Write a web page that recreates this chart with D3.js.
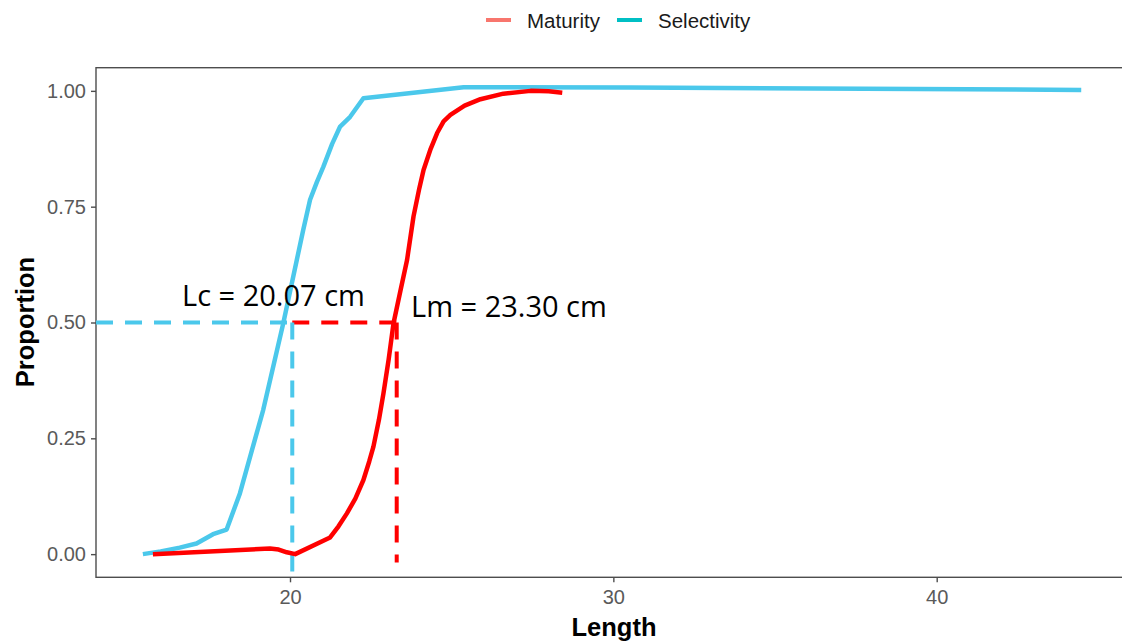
<!DOCTYPE html>
<html>
<head>
<meta charset="utf-8">
<script src="https://cdn.jsdelivr.net/npm/d3@7"></script>
<style>
  body { margin: 0; background: #fff; overflow: hidden; }
  svg { display: block; overflow: hidden; }
</style>
</head>
<body>
<div id="chart"></div>
<script>
// selectivity curve (length cm, proportion)
const selLength = [15.45, 16.0, 16.59, 17.11, 17.62, 18.04, 18.45, 19.17, 19.79, 20.21, 20.41, 20.62, 20.83, 21.03, 21.3, 21.55, 21.86, 22.27, 25.37, 30.54, 44.47];
const selProp   = [0.0, 0.006, 0.014, 0.023, 0.043, 0.053, 0.131, 0.311, 0.498, 0.635, 0.70, 0.765, 0.803, 0.836, 0.885, 0.923, 0.944, 0.984, 1.008, 1.007, 1.002];

// maturity curve
const matLength = [15.76, 19.38, 19.65, 19.9, 20.16, 21.24, 21.5, 21.76, 22.02, 22.27, 22.45, 22.58, 22.75, 22.89, 23.05, 23.2, 23.42, 23.62, 23.82, 24.0, 24.13, 24.35, 24.55, 24.75, 24.96, 25.4, 25.89, 26.6, 27.44, 28.0, 28.42];
const matProp   = [0.0, 0.012, 0.01, 0.004, 0.0, 0.036, 0.06, 0.088, 0.12, 0.16, 0.2, 0.232, 0.29, 0.347, 0.42, 0.498, 0.57, 0.635, 0.729, 0.79, 0.829, 0.875, 0.909, 0.934, 0.948, 0.968, 0.982, 0.994, 1.0, 0.999, 0.996];

const xTicks = [20, 30, 40];
const yTicks = [0, 0.25, 0.5, 0.75, 1];
const legendNames = ['Maturity', 'Selectivity'];
const legendColors = ['#F8766D', '#00BFC4'];

// L50 annotations
const lc = 20.07;
const lm = 23.30;
const lcLabel = 'Lc = 20.07 cm';
const lmLabel = 'Lm = 23.30 cm';

const width = 1122, height = 644;
const panel = { left: 96, right: 1132, top: 67.7, bottom: 577.3 };

const svg = d3.select('#chart').append('svg')
    .attr('width', width)
    .attr('height', height);

const x = d3.scaleLinear().domain([14.0, 46.04]).range([panel.left, panel.right]);
const y = d3.scaleLinear().domain([-0.05, 1.05]).range([panel.bottom, panel.top]);

const tickFont = '"Liberation Sans", Arial, sans-serif';
const noteFont = '"Open Sans", sans-serif';

// panel border
svg.append('rect')
    .attr('x', panel.left)
    .attr('y', panel.top)
    .attr('width', panel.right - panel.left)
    .attr('height', panel.bottom - panel.top)
    .attr('fill', 'none')
    .attr('stroke', '#4d4d4d')
    .attr('stroke-width', 1.4);

// axes
const xAxis = svg.append('g')
    .attr('transform', `translate(0,${panel.bottom})`)
    .call(d3.axisBottom(x).tickValues(xTicks).tickSize(5).tickPadding(8).tickFormat(d3.format('d')));
const yAxis = svg.append('g')
    .attr('transform', `translate(${panel.left},0)`)
    .call(d3.axisLeft(y).tickValues(yTicks).tickSize(5).tickPadding(5).tickFormat(d3.format('.2f')));

[xAxis, yAxis].forEach(ax => {
    ax.select('.domain').remove();
    ax.selectAll('.tick line').attr('stroke', '#4d4d4d').attr('stroke-width', 1.4);
    ax.selectAll('.tick text')
        .attr('fill', '#5a5a5a')
        .style('font-family', tickFont)
        .style('font-size', '20px');
});

// dashed guide lines
const dash = '17,12';
const guides = [
    { x1: x.invert(panel.left), y1: 0.5, x2: lc, y2: 0.5, color: '#4BC8EB' },
    { x1: lc, y1: 0.5, x2: lm, y2: 0.5, color: '#FF0000' },
    { x1: lc, y1: 0.5, x2: lc, y2: -0.056, color: '#4BC8EB' },
    { x1: lm, y1: 0.5, x2: lm, y2: -0.018, color: '#FF0000' }
];
svg.selectAll('line.guide')
    .data(guides)
    .enter().append('line')
    .attr('class', 'guide')
    .attr('x1', d => x(d.x1))
    .attr('y1', d => y(d.y1))
    .attr('x2', d => x(d.x2))
    .attr('y2', d => y(d.y2))
    .attr('stroke', d => d.color)
    .attr('stroke-width', 4)
    .attr('stroke-dasharray', dash);

// curves
const line = d3.line()
    .x(d => x(d[0]))
    .y(d => y(d[1]));

svg.append('path')
    .datum(d3.zip(selLength, selProp))
    .attr('d', line)
    .attr('fill', 'none')
    .attr('stroke', '#4BC8EB')
    .attr('stroke-width', 4.5)
    .attr('stroke-linejoin', 'round');

svg.append('path')
    .datum(d3.zip(matLength, matProp))
    .attr('d', line)
    .attr('fill', 'none')
    .attr('stroke', '#FF0000')
    .attr('stroke-width', 4.5)
    .attr('stroke-linejoin', 'round');

// annotation text
svg.append('text')
    .attr('x', 182)
    .attr('y', 306)
    .style('font-family', noteFont)
    .style('font-size', '29px')
    .attr('fill', '#000')
    .text(lcLabel);

svg.append('text')
    .attr('x', 411)
    .attr('y', 317)
    .style('font-family', noteFont)
    .style('font-size', '29px')
    .attr('fill', '#000')
    .text(lmLabel);

// axis titles
svg.append('text')
    .attr('x', 614)
    .attr('y', 636)
    .attr('text-anchor', 'middle')
    .style('font-family', tickFont)
    .style('font-weight', 'bold')
    .style('font-size', '25.5px')
    .text('Length');

svg.append('text')
    .attr('transform', 'translate(34,322) rotate(-90)')
    .attr('text-anchor', 'middle')
    .style('font-family', tickFont)
    .style('font-weight', 'bold')
    .style('font-size', '25.5px')
    .text('Proportion');

// legend
const legendX = [486, 617];
const legend = svg.selectAll('g.legend')
    .data(legendNames)
    .enter().append('g')
    .attr('class', 'legend')
    .attr('transform', (d, i) => `translate(${legendX[i]},20)`);

legend.append('line')
    .attr('x1', 0).attr('x2', 25)
    .attr('stroke', (d, i) => legendColors[i])
    .attr('stroke-width', 4);

legend.append('text')
    .attr('x', 41)
    .attr('y', 8)
    .style('font-family', tickFont)
    .style('font-size', '20.5px')
    .attr('fill', '#1a1a1a')
    .text(d => d);
</script>
</body>
</html>
